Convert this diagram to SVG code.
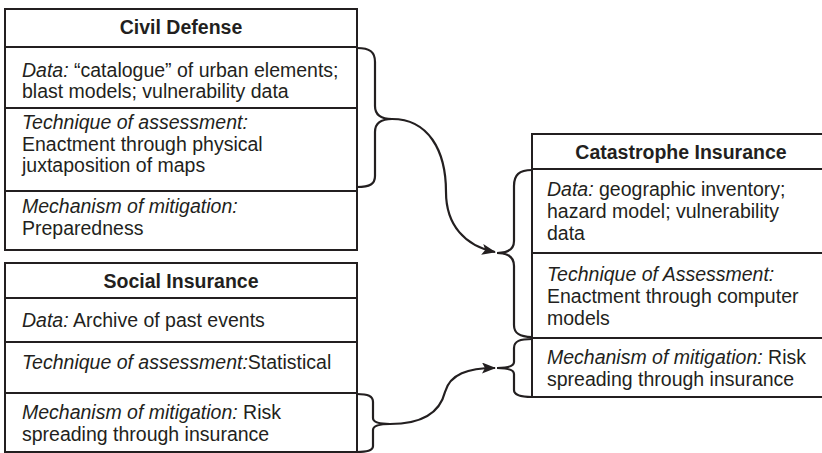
<svg xmlns="http://www.w3.org/2000/svg" width="822" height="453" viewBox="0 0 822 453">
  <style>
    .box { fill: #ffffff; stroke: #231f20; stroke-width: 2; }
    .rule { stroke: #231f20; stroke-width: 2; }
    .t { font-family: "Liberation Sans", Arial, Helvetica, sans-serif; font-size: 19.5px; fill: #231f20; }
    .h { font-weight: bold; text-anchor: middle; }
    .i { font-style: italic; }
    .link { fill: none; stroke: #231f20; stroke-width: 2.2; }
  </style>
  <defs>
    <marker id="arrow" viewBox="0 0 14 11" refX="13" refY="5.5" markerWidth="14" markerHeight="11" markerUnits="userSpaceOnUse" orient="auto">
      <path d="M0,0 L14,5.5 L0,11 L3,5.5 Z" fill="#231f20"/>
    </marker>
  </defs>

  <!-- Civil Defense -->
  <g id="civil-defense">
    <rect class="box" x="5" y="9" width="352" height="241"/>
    <line class="rule" x1="5" y1="47" x2="357" y2="47"/>
    <line class="rule" x1="5" y1="108" x2="357" y2="108"/>
    <line class="rule" x1="5" y1="191" x2="357" y2="191"/>
    <text class="t h" x="181" y="34">Civil Defense</text>
    <text class="t" x="22" y="77"><tspan class="i">Data:</tspan> “catalogue” of urban elements;</text>
    <text class="t" x="22" y="98">blast models; vulnerability data</text>
    <text class="t i" x="22" y="129">Technique of assessment:</text>
    <text class="t" x="22" y="151">Enactment through physical</text>
    <text class="t" x="22" y="172">juxtaposition of maps</text>
    <text class="t i" x="22" y="213">Mechanism of mitigation:</text>
    <text class="t" x="22" y="235">Preparedness</text>
  </g>

  <!-- Social Insurance -->
  <g id="social-insurance">
    <rect class="box" x="5" y="263" width="352" height="189"/>
    <line class="rule" x1="5" y1="298" x2="357" y2="298"/>
    <line class="rule" x1="5" y1="342" x2="357" y2="342"/>
    <line class="rule" x1="5" y1="393" x2="357" y2="393"/>
    <text class="t h" x="181" y="288">Social Insurance</text>
    <text class="t" x="22" y="327"><tspan class="i">Data:</tspan> Archive of past events</text>
    <text class="t" x="22" y="369"><tspan class="i">Technique of assessment:</tspan>Statistical</text>
    <text class="t" x="22" y="419"><tspan class="i">Mechanism of mitigation:</tspan> Risk</text>
    <text class="t" x="22" y="441">spreading through insurance</text>
  </g>

  <!-- Catastrophe Insurance -->
  <g id="catastrophe-insurance">
    <rect class="box" x="532" y="134" width="300" height="263"/>
    <line class="rule" x1="532" y1="169" x2="832" y2="169"/>
    <line class="rule" x1="532" y1="253" x2="832" y2="253"/>
    <line class="rule" x1="532" y1="338" x2="832" y2="338"/>
    <text class="t h" x="681" y="159">Catastrophe Insurance</text>
    <text class="t" x="547" y="196"><tspan class="i">Data:</tspan> geographic inventory;</text>
    <text class="t" x="547" y="218">hazard model; vulnerability</text>
    <text class="t" x="547" y="240">data</text>
    <text class="t i" x="547" y="281">Technique of Assessment:</text>
    <text class="t" x="547" y="303">Enactment through computer</text>
    <text class="t" x="547" y="325">models</text>
    <text class="t" x="547" y="364"><tspan class="i">Mechanism of mitigation:</tspan> Risk</text>
    <text class="t" x="547" y="386">spreading through insurance</text>
  </g>

  <!-- Braces and connectors -->
  <g id="connectors">
    <!-- brace over Civil Defense data + technique rows -->
    <path class="link" d="M357,48 C370,48 375,52 375,62 L375,106 C375,114 380,119 392,119 C380,119 375,124 375,132 L375,176 C375,184 370,187 357,187"/>
    <!-- Civil Defense to Catastrophe Insurance -->
    <path class="link" marker-end="url(#arrow)" d="M392,119 C428,119 446,150 446,192 C446,225 465,246 495,252"/>
    <!-- brace over Catastrophe data + technique rows -->
    <path class="link" d="M532,170 C519,170 514,175 514,186 L514,241 C514,248 509,253 497,253 C509,253 514,258 514,266 L514,325 C514,333 519,337 532,337"/>

    <!-- brace over Social Insurance mitigation row -->
    <path class="link" d="M357,394 C368,394 373,396 373,402 L373,418 C373,422 378,424 390,424 C378,424 373,426 373,430 L373,446 C373,450 368,452 357,452"/>
    <!-- Social Insurance to Catastrophe Insurance -->
    <path class="link" marker-end="url(#arrow)" d="M390,424 C424,424 440,412 445,392 C450,374 468,368 495,368"/>
    <!-- brace over Catastrophe mitigation row -->
    <path class="link" d="M532,339 C520,339 514,341 514,348 L514,362 C514,366 509,368 497,368 C509,368 514,370 514,374 L514,390 C514,395 520,397 532,397"/>
  </g>
</svg>
